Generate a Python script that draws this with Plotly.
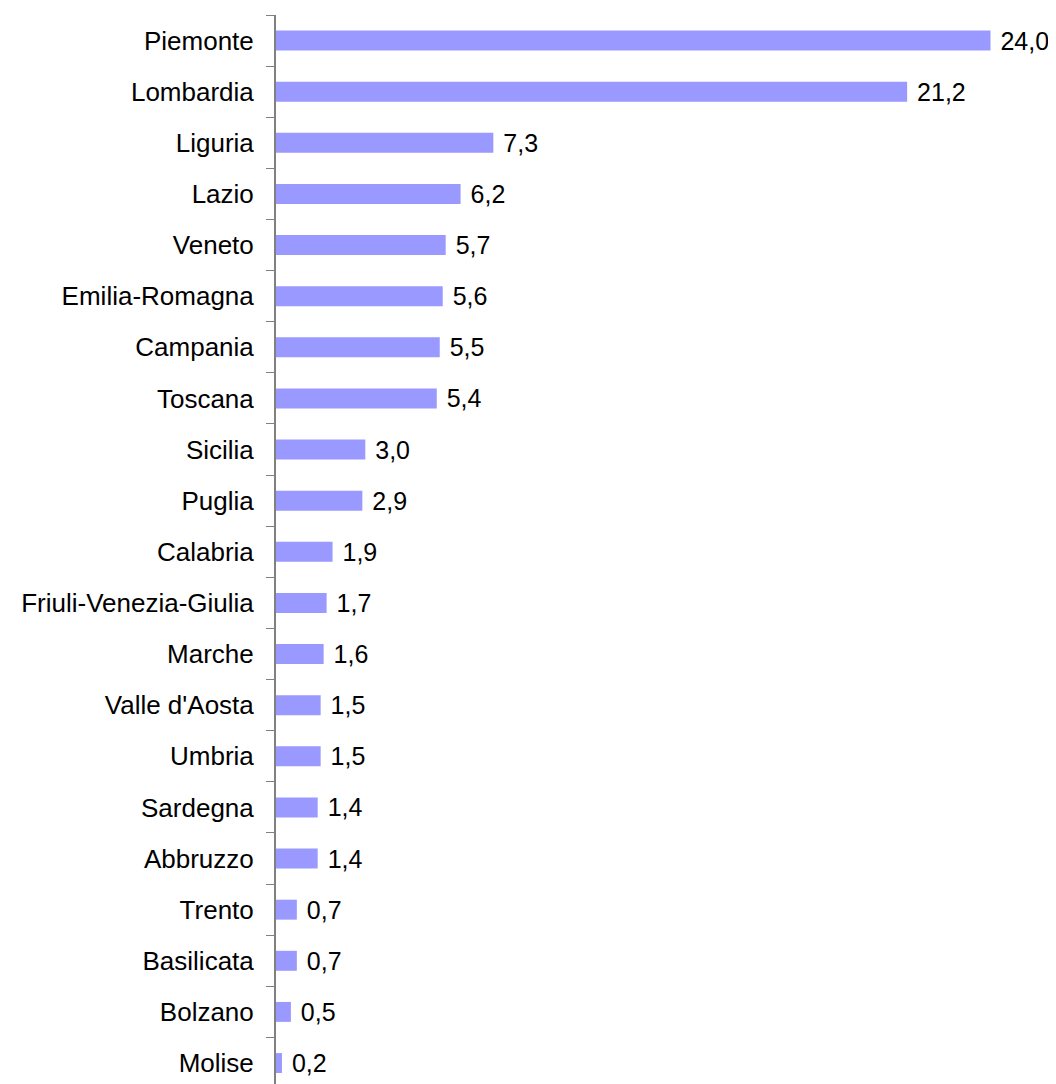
import plotly.graph_objects as go

regions = ['Piemonte', 'Lombardia', 'Liguria', 'Lazio', 'Veneto', 'Emilia-Romagna',
           'Campania', 'Toscana', 'Sicilia', 'Puglia', 'Calabria',
           'Friuli-Venezia-Giulia', 'Marche', "Valle d'Aosta", 'Umbria', 'Sardegna',
           'Abbruzzo', 'Trento', 'Basilicata', 'Bolzano', 'Molise']
values = [24.0, 21.2, 7.3, 6.2, 5.7, 5.6, 5.5, 5.4, 3.0, 2.9, 1.9, 1.7, 1.6,
          1.5, 1.5, 1.4, 1.4, 0.7, 0.7, 0.5, 0.2]

bar_color = '#9999FF'
axis_color = '#808080'

# bottom-up order so Piemonte ends up on top
cats = regions[::-1]
vals = values[::-1]
labels = [' ' + ('%.1f' % v).replace('.', ',') for v in vals]

fig = go.Figure()
fig.add_trace(go.Bar(
    x=vals,
    y=cats,
    orientation='h',
    marker=dict(color=bar_color, line=dict(width=0)),
    text=labels,
    textposition='outside',
    constraintext='none',
    textfont=dict(size=25, color='black', family='Liberation Sans, Arial'),
    cliponaxis=False,
    hoverinfo='x+y',
))

# page body has an 8px margin, so the figure is a bit smaller than the window
fig.update_layout(
    width=1048, height=1076,
    margin=dict(l=268, r=0, t=7, b=0),
    paper_bgcolor='white', plot_bgcolor='white',
    showlegend=False,
    bargap=0.61,
    font=dict(family='Liberation Sans, Arial', size=26, color='black'),
)
fig.update_xaxes(range=[0, 26.2], visible=False, showgrid=False, zeroline=False)
fig.update_yaxes(
    type='category',
    categoryorder='array', categoryarray=cats,
    range=[-0.41, 20.5],
    showline=True, linecolor=axis_color, linewidth=2,
    ticks='outside', tickson='boundaries', ticklen=8,
    tickcolor=axis_color, tickwidth=1,
    ticklabelstandoff=15,
    showgrid=False, zeroline=False,
    tickfont=dict(size=26, color='black'),
)

fig.write_html("out.html")
